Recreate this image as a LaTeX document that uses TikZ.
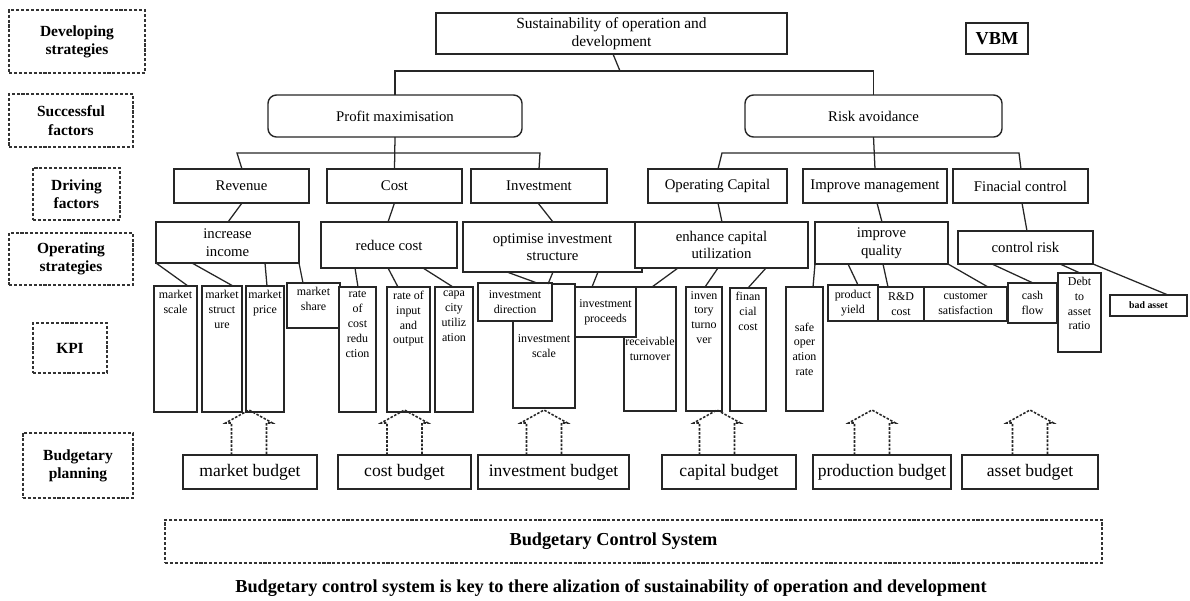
\documentclass[tikz,border=0pt]{standalone}
\usepackage{fontspec}
\setmainfont{Liberation Serif}
\newlength\pxu
\setlength\pxu{0.025cm}
% box from corner to corner with centred text
\newcommand\boxat[7][]{\node[#1, minimum width={(#5-#3)*\pxu}, minimum height={(#6-#4)*\pxu}]
  (#2) at ({(#3+#5)/2},{(#4+#6)/2}) {#7};}
% tall box with its text at the top
\newcommand\topbox[7][]{\boxat[#1]{#2}{#3}{#4}{#5}{#6}{}
  \node[kpitext, anchor=north] (#2-t) at (#2.north) {#7};}
% connector from a point on the lower edge of one box to a point on the upper edge of another
\newcommand\lk[4]{\draw[link] ([xshift=#2*\pxu]#1.south west) -- ([xshift=#4*\pxu]#3.north west);}
% dashed block arrow rising from a budget box
\newcommand\upblk[2]{\draw[blk] ([xshift=#2*\pxu]#1.north) ++(-17.5,0) -- ++(0,-32) -- ++(-6,0)
  -- ++(23.5,-13) -- ++(23.5,13) -- ++(-6,0) -- ++(0,32) -- cycle;}
\begin{document}
\begin{tikzpicture}[x=0.025cm,y=-0.025cm,
  every node/.style={inner sep=0pt, outer sep=0pt},
  box/.style={draw=black!85, line width=1pt, fill=white, inner sep=0pt, align=center,
    font=\fontsize{10.5}{12.5}\selectfont},
  rbox/.style={box, rounded corners=6pt},
  lab/.style={draw=black!80, dash pattern=on 2.2pt off 1.3pt, line width=1pt, align=center,
    font=\bfseries\fontsize{11}{13}\selectfont},
  kpi/.style={box, font=\fontsize{8.5}{10.5}\selectfont},
  kpitext/.style={align=center, font=\fontsize{8.5}{10.5}\selectfont, inner sep=3pt},
  bud/.style={box, font=\fontsize{12.5}{14}\selectfont},
  link/.style={draw=black!85, line width=0.9pt},
  blk/.style={draw=black!85, dash pattern=on 1.8pt off 1.1pt, line width=1.1pt}]
\useasboundingbox (0,0) rectangle (1190,600);

% level labels on the left
\boxat[lab]{L1}{9}{10}{145}{73}{Developing\\strategies}
\boxat[lab]{L2}{9}{94}{133}{147}{Successful\\factors}
\boxat[lab]{L3}{33}{168}{120}{220}{Driving\\factors}
\boxat[lab]{L4}{9}{233}{133}{285}{Operating\\strategies}
\boxat[lab]{L5}{33}{323}{107}{373}{KPI}
\boxat[lab]{L6}{23}{433}{133}{498}{Budgetary\\planning}

% goal and success factors
\boxat[box, font=\fontsize{11}{13}\selectfont]{T}{436}{13}{787}{54}{Sustainability of operation and\\development}
\boxat[box, font=\bfseries\fontsize{13}{15}\selectfont]{vbm}{966}{23}{1028}{54}{VBM}
\boxat[rbox]{PM}{268}{95}{522}{137}{Profit maximisation}
\boxat[rbox]{RA}{745}{95}{1002}{137}{Risk avoidance}

% driving factors
\boxat[box]{Rev}{174}{169}{309}{203}{Revenue}
\boxat[box]{Cost}{327}{169}{462}{203}{Cost}
\boxat[box]{Inv}{471}{169}{607}{203}{Investment}
\boxat[box]{OpC}{648}{169}{787}{203}{Operating Capital}
\boxat[box]{Imp}{803}{169}{947}{203}{Improve management}
\boxat[box]{Fin}{953}{169}{1088}{203}{Finacial control}

% operating strategies
\boxat[box]{Inc}{156}{222}{299}{263}{increase\\income}
\boxat[box]{Red}{321}{222}{457}{268}{reduce cost}
\boxat[box]{Opt}{463}{222}{642}{272}{optimise investment\\structure}
\boxat[box]{Enh}{635}{222}{808}{268}{enhance capital\\utilization}
\boxat[box]{Qual}{815}{222}{948}{264}{improve\\quality}
\boxat[box]{Ctrl}{958}{231}{1093}{264}{control risk}

% key performance indicators
\topbox[kpi]{ms1}{154}{286}{197}{412}{market\\scale}
\topbox[kpi]{ms2}{202}{286}{242}{412}{market\\struct\\ure}
\topbox[kpi]{ms3}{246}{286}{284}{412}{market\\price}
\topbox[kpi]{ms4}{287}{283}{340}{328}{market\\share}
\topbox[kpi]{rc}{339}{287}{376}{412}{rate\\of\\cost\\redu\\ction}
\topbox[kpi]{rio}{387}{287}{430}{412}{rate of\\input\\and\\output}
\topbox[kpi]{cu}{435}{287}{473}{412}{capa\\city\\utiliz\\ation}
\boxat[kpi]{ids}{513}{284}{575}{408}{investment\\scale}
\boxat[kpi]{idr}{478}{283}{552}{321}{investment\\direction}
\boxat[kpi]{rt}{624}{287}{676}{411}{receivable\\turnover}
\boxat[kpi]{ip}{575}{287}{636}{337}{investment\\proceeds}
\topbox[kpi]{it}{686}{287}{722}{411}{inven\\tory\\turno\\ver}
\topbox[kpi]{fc}{730}{288}{766}{411}{finan\\cial\\cost}
\boxat[kpi]{so}{786}{287}{823}{411}{safe\\oper\\ation\\rate}
\boxat[kpi]{py}{828}{285}{878}{321}{product\\yield}
\boxat[kpi]{rd}{878}{287}{924}{321}{R\&D\\cost}
\boxat[kpi]{cs}{924}{287}{1007}{321}{customer\\satisfaction}
\boxat[kpi]{cf}{1008}{283}{1057}{323}{cash\\flow}
\topbox[kpi]{dar}{1058}{273}{1101}{352}{Debt\\to\\asset\\ratio}
\boxat[kpi, font=\bfseries\fontsize{7}{8}\selectfont]{ba}{1110}{295}{1187}{316}{bad asset}

% budgets
\boxat[bud]{mb}{183}{455}{317}{489}{market budget}
\boxat[bud]{cb}{338}{455}{471}{489}{cost budget}
\boxat[bud]{ib}{478}{455}{629}{489}{investment budget}
\boxat[bud]{capb}{662}{455}{796}{489}{capital budget}
\boxat[bud]{pb}{813}{455}{951}{489}{production budget}
\boxat[bud]{ab}{962}{455}{1098}{489}{asset budget}

\boxat[lab]{bcs}{165}{520}{1102}{563}{}
\node[font=\bfseries\fontsize{13}{15}\selectfont] (bcs-t) at ([xshift=-20*\pxu]bcs.center) {Budgetary Control System};
\node[font=\bfseries\fontsize{13}{15}\selectfont] (cap) at (611,588)
  {Budgetary control system is key to there alization of sustainability of operation and development};

% tree connectors
\coordinate (barT) at (620,71);
\draw[link] ([xshift=177*\pxu]T.south west) -- (barT);
\draw[link] (PM.north) |- (barT) -| (RA.north);
\coordinate (pl) at (237,153);
\coordinate (pr) at (540,153);
\draw[link] (PM.south) -- (Cost.north);
\draw[link] ([xshift=68*\pxu]Rev.north west) -- (pl) -- (pr) -- ([xshift=68*\pxu]Inv.north west);
\coordinate (rl) at (722,153);
\coordinate (rr) at (1019,153);
\draw[link] (RA.south) -- (Imp.north);
\draw[link] ([xshift=70*\pxu]OpC.north west) -- (rl) -- (rr) -- ([xshift=68*\pxu]Fin.north west);

\lk{Rev}{68}{Inc}{72}
\draw[link] (Cost.south) -- ([xshift=67*\pxu]Red.north west);
\lk{Inv}{67}{Opt}{90}
\lk{OpC}{70}{Enh}{87}
\lk{Imp}{74}{Qual}{67}
\lk{Fin}{69}{Ctrl}{69}

\lk{Inc}{0}{ms1}{34}
\lk{Inc}{36}{ms2}{31}
\lk{Inc}{109}{ms3}{21}
\lk{Inc}{143}{ms4}{16}
\lk{Red}{34}{rc}{19}
\lk{Red}{67}{rio}{11}
\lk{Red}{102}{cu}{18}
\lk{Opt}{44}{idr}{59}
\lk{Opt}{90}{ids}{35}
\lk{Opt}{135}{ip}{17}
\lk{Enh}{43}{rt}{28}
\lk{Enh}{83}{it}{19}
\lk{Enh}{131}{fc}{18}
\lk{Qual}{0}{so}{27}
\lk{Qual}{33}{py}{30}
\lk{Qual}{68}{rd}{10}
\lk{Qual}{133}{cs}{64}
\lk{Ctrl}{34}{cf}{25}
\lk{Ctrl}{102}{dar}{22}
\lk{Ctrl}{135}{ba}{58}

% budgets feeding the indicators
\upblk{mb}{-1}
\upblk{cb}{0}
\upblk{ib}{-9.5}
\upblk{capb}{-12}
\upblk{pb}{-10}
\upblk{ab}{0}
\end{tikzpicture}
\end{document}
